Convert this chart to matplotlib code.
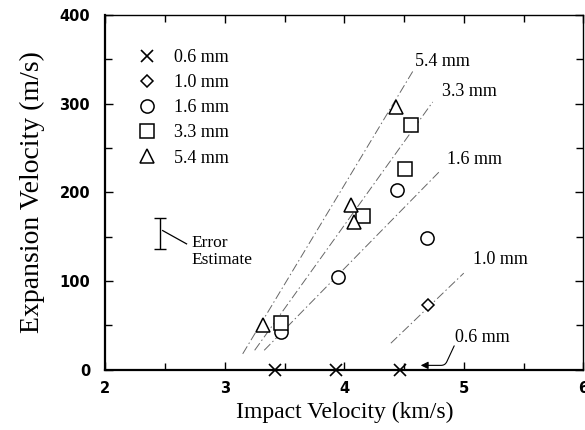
import numpy as np
import matplotlib
matplotlib.use("Agg")
import matplotlib.pyplot as plt
from matplotlib.ticker import MultipleLocator

# measured points (impact velocity km/s, expansion velocity m/s)
x06 = [3.42, 3.93, 4.47]
y06 = [0, 0, 0]
x10 = [4.70]
y10 = [73]
x16 = [3.47, 3.95, 4.44, 4.69]
y16 = [43, 105, 203, 149]
x33 = [3.47, 4.16, 4.51, 4.56]
y33 = [53, 173, 226, 276]
x54 = [3.32, 4.06, 4.08, 4.43]
y54 = [51, 186, 167, 296]

# fit lines (end points)
fit54_x = [3.15, 4.58]
fit54_y = [18, 338]
fit33_x = [3.25, 4.74]
fit33_y = [22, 302]
fit16_x = [3.33, 4.80]
fit16_y = [22, 224]
fit10_x = [4.39, 5.00]
fit10_y = [30, 109]

serif = "Liberation Serif"

fig = plt.figure(figsize=(5.85, 4.3), dpi=100)
ax = fig.add_axes([0.18, 0.14, 0.817, 0.825])

dash = (0, (9, 3, 1.5, 3))
for fx, fy in [(fit54_x, fit54_y), (fit33_x, fit33_y), (fit16_x, fit16_y), (fit10_x, fit10_y)]:
    ax.plot(fx, fy, color="#666666", linewidth=0.7, linestyle=dash)

mk = dict(linestyle="none", markerfacecolor="white", markeredgecolor="black",
          markeredgewidth=1.1, color="black")
ax.plot(x06, y06, marker="x", markersize=9, markeredgewidth=1.2, linestyle="none",
        color="black", label="0.6 mm", clip_on=False, zorder=5)
ax.plot(x10, y10, marker="D", markersize=6.5, label="1.0 mm", **mk)
ax.plot(x16, y16, marker="o", markersize=9.5, label="1.6 mm", **mk)
ax.plot(x33, y33, marker="s", markersize=9.5, label="3.3 mm", **mk)
ax.plot(x54, y54, marker="^", markersize=10, label="5.4 mm", **mk)

leg = ax.legend(loc="upper left", bbox_to_anchor=(0.03, 0.95), frameon=False,
                prop={"family": serif, "size": 13}, handletextpad=0.9,
                labelspacing=0.45, handlelength=1.2)

# line labels
ax.text(4.59, 348, "5.4 mm", family=serif, fontsize=13, va="center")
ax.text(4.82, 314, "3.3 mm", family=serif, fontsize=13, va="center")
ax.text(4.86, 237, "1.6 mm", family=serif, fontsize=13, va="center")
ax.text(5.08, 124, "1.0 mm", family=serif, fontsize=13, va="center")
ax.text(4.93, 36, "0.6 mm", family=serif, fontsize=13, va="center")
ax.annotate("", xy=(4.64, 5), xytext=(4.92, 27),
            arrowprops=dict(arrowstyle="-|>", color="black", linewidth=0.8,
                            mutation_scale=11, shrinkA=0, shrinkB=0,
                            connectionstyle="angle,angleA=-115,angleB=0,rad=4"))

# error estimate bar
ax.errorbar([2.46], [153.5], yerr=[17.5], color="black", linewidth=1.0,
            capsize=4, capthick=1.0)
ax.plot([2.48, 2.68], [157, 142], color="black", linewidth=0.9)
ax.text(2.72, 133, "Error\nEstimate", family=serif, fontsize=12.5, va="center",
        linespacing=1.1)

ax.set_xlim(2, 6)
ax.set_ylim(0, 400)
ax.xaxis.set_major_locator(MultipleLocator(1))
ax.xaxis.set_minor_locator(MultipleLocator(0.5))
ax.yaxis.set_major_locator(MultipleLocator(100))
ax.yaxis.set_minor_locator(MultipleLocator(50))
ax.tick_params(which="both", direction="in", top=True, right=True, width=1.0)
ax.tick_params(which="major", length=6)
ax.tick_params(which="minor", length=5)
ax.tick_params(axis="x", which="major", pad=8)
ax.tick_params(axis="y", which="major", pad=11)
for lab in ax.get_xticklabels() + ax.get_yticklabels():
    lab.set_family("DejaVu Sans")
    lab.set_fontweight("bold")
    lab.set_fontsize(10.5)

for s in ["left", "bottom"]:
    ax.spines[s].set_linewidth(1.6)
for s in ["top", "right"]:
    ax.spines[s].set_linewidth(1.0)

ax.set_xlabel("Impact Velocity (km/s)", family=serif, fontsize=17, labelpad=4)
ax.set_ylabel("Expansion Velocity (m/s)", family=serif, fontsize=20, labelpad=10)

fig.savefig("out.png", dpi=100)
